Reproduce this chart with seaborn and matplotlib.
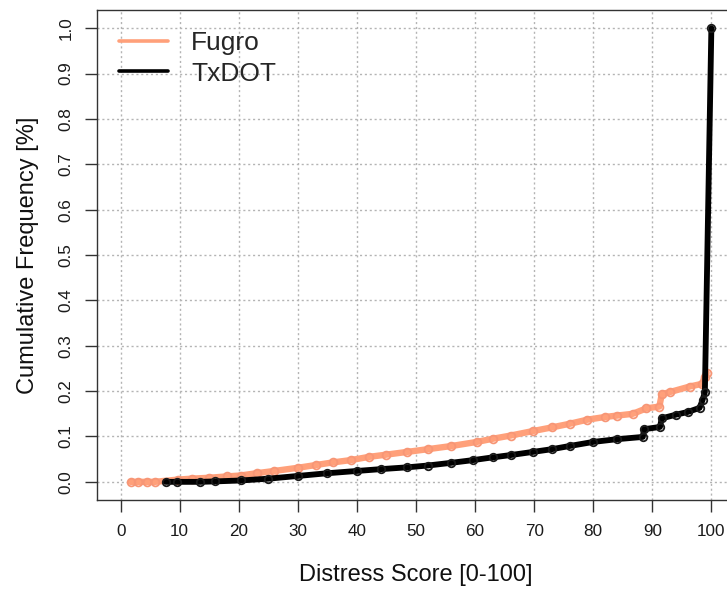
import matplotlib
matplotlib.use("Agg")
import matplotlib.pyplot as plt
from matplotlib.lines import Line2D
import numpy as np
import pandas as pd
import seaborn as sns

# Cumulative frequency of distress scores
fugro_score = [1.7, 3.0, 4.5, 5.8, 9.7, 12, 15, 18, 20.3, 23, 26, 30, 33, 36, 39,
               42, 45, 48.5, 52, 56, 60.3, 63, 66, 69.8, 73, 76, 79, 82, 84, 86.7,
               89, 91.2, 91.6, 93, 96.3, 98.4, 98.9, 99.2]
fugro_cum = [0.0, 0.0, 0.0, 0.0, 0.005, 0.007, 0.009, 0.012, 0.014, 0.019, 0.024,
             0.031, 0.037, 0.043, 0.048, 0.055, 0.060, 0.066, 0.072, 0.079, 0.088,
             0.095, 0.102, 0.112, 0.120, 0.128, 0.137, 0.143, 0.146, 0.150, 0.162,
             0.166, 0.193, 0.198, 0.210, 0.216, 0.232, 0.240]

txdot_score = [7.6, 9.6, 13.5, 16, 20.3, 25, 30, 35, 40, 44, 48.5, 52, 56, 59.7,
               63, 66, 69.8, 73, 76, 80, 84, 88.4, 88.6, 91.3, 91.6, 94, 96, 98,
               98.5, 98.9, 100]
txdot_cum = [0.0, 0.0, 0.0, 0.001, 0.003, 0.007, 0.013, 0.019, 0.024, 0.028, 0.032,
             0.036, 0.042, 0.048, 0.054, 0.059, 0.066, 0.072, 0.079, 0.088, 0.094,
             0.099, 0.116, 0.121, 0.140, 0.148, 0.154, 0.163, 0.180, 0.198, 1.000]

series_names = ["Fugro", "TxDOT"]
series_colors = ["#FFA07A", "#000000"]

x_ticks = list(range(0, 101, 10))
y_ticks = [round(v * 0.1, 1) for v in range(11)]

sns.set_style("white")
plt.rcParams["font.family"] = ["Liberation Sans", "DejaVu Sans"]

fig = plt.figure(figsize=(7.27, 5.89), dpi=100)
ax = fig.add_axes([97 / 727, 89 / 589, 638 / 727, 490 / 589])

fugro = pd.DataFrame({"score": fugro_score, "cum": fugro_cum})
txdot = pd.DataFrame({"score": txdot_score, "cum": txdot_cum})

# dotted reference grid underneath the curves
for xv in x_ticks:
    ax.axvline(xv, color="#b4b4b4", lw=1.0, ls=(0, (1.5, 2.0)), zorder=0)
for yv in y_ticks:
    ax.axhline(yv, color="#b4b4b4", lw=1.0, ls=(0, (1.5, 2.0)), zorder=0)

sns.lineplot(data=fugro, x="score", y="cum", ax=ax, sort=False, estimator=None,
             color=series_colors[0], lw=4.6, marker="o", markersize=5.6,
             markerfacecolor="none", markeredgecolor="#F79676",
             markeredgewidth=1.3, zorder=3)
sns.lineplot(data=txdot, x="score", y="cum", ax=ax, sort=False, estimator=None,
             color=series_colors[1], lw=4.2, marker="o", markersize=5.4,
             markerfacecolor="none", markeredgecolor="#1a1a1a",
             markeredgewidth=1.3, zorder=4)

ax.set_xlim(-4, 104)
ax.set_ylim(-0.04, 1.04)
ax.set_xticks(x_ticks)
ax.set_xticklabels([str(v) for v in x_ticks])
ax.set_yticks(y_ticks)
ax.set_yticklabels([f"{v:.1f}" for v in y_ticks], rotation=90, va="center")

ax.tick_params(axis="both", which="major", direction="out", length=8.5, width=1.0,
               color="#333333", labelsize=12.3, labelcolor="#1a1a1a", pad=8.5)
ax.tick_params(axis="x", bottom=True)
ax.tick_params(axis="y", left=True)

for side in ["left", "bottom", "top", "right"]:
    ax.spines[side].set_color("#333333")
    ax.spines[side].set_linewidth(1.0)

ax.set_xlabel("Distress Score [0-100]", fontsize=17, color="#111111", va="center")
ax.xaxis.set_label_coords(0.5, -0.153)
ax.set_ylabel("Cumulative Frequency [%]", fontsize=17, color="#111111", va="center")
ax.yaxis.set_label_coords(-0.108, 0.5)

handles = [Line2D([], [], color=series_colors[0], lw=2.6),
           Line2D([], [], color=series_colors[1], lw=2.6)]
ax.legend(handles, series_names, loc="upper left", bbox_to_anchor=(0.034, 0.957),
          frameon=False, fontsize=19, handlelength=1.85, handletextpad=0.9,
          labelspacing=0.25, borderpad=0.0, borderaxespad=0.0)

fig.savefig("out.png", dpi=100)
